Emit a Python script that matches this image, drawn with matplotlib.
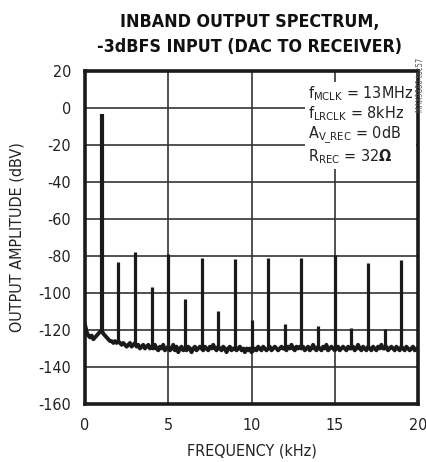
import numpy as np
import matplotlib
matplotlib.use("Agg")
import matplotlib.pyplot as plt
from matplotlib import font_manager as fm

# ---------------- data ----------------
floor_start_khz = 0.0
floor_step_khz = 0.1
noise_floor_dbv = [
    -117, -121, -123, -124, -123, -125, -124, -123, -122, -121,
    -120, -122, -123, -124, -125, -126, -126, -127, -126, -127,
    -126, -127, -128, -127, -128, -129, -128, -127, -129, -128,
    -127, -129, -128, -130, -129, -128, -130, -129, -128, -130,
    -129, -130, -128, -130, -131, -129, -130, -128, -131, -130,
    -129, -131, -130, -128, -131, -129, -132, -130, -129, -131,
    -130, -131, -129, -130, -132, -130, -129, -131, -130, -129,
    -130, -131, -129, -130, -131, -129, -130, -128, -130, -131,
    -129, -130, -131, -129, -130, -132, -130, -129, -131, -130,
    -130, -131, -130, -129, -131, -130, -132, -130, -131, -130,
    -132, -131, -130, -131, -129, -130, -131, -129, -130, -131,
    -130, -129, -131, -130, -129, -130, -131, -130, -129, -130,
    -130, -131, -129, -130, -128, -130, -131, -129, -130, -129,
    -130, -129, -131, -130, -129, -131, -130, -128, -130, -131,
    -129, -130, -131, -129, -130, -128, -131, -130, -129, -130,
    -131, -130, -129, -131, -130, -129, -130, -131, -129, -130,
    -130, -129, -131, -130, -128, -130, -131, -129, -130, -131,
    -129, -130, -131, -129, -130, -131, -129, -130, -128, -130,
    -130, -129, -131, -130, -129, -130, -131, -129, -130, -131,
    -129, -130, -131, -129, -130, -131, -130, -129, -131, -130,
    -130,
]
fundamental_khz = 1.0
fundamental_dbv = -3.0
harmonic_khz = [2, 3, 4, 5, 6, 7, 8, 9, 10, 11, 12, 13, 14, 15, 16, 17, 18, 19]
harmonic_dbv = [-83, -78, -96.5, -79, -103.5, -81, -109.5, -81.5, -114.5,
                -81, -117, -81, -118, -79.5, -119, -84, -119.5, -82]

x_ticks = [0, 5, 10, 15, 20]
y_ticks = [20, 0, -20, -40, -60, -80, -100, -120, -140, -160]
title = "INBAND OUTPUT SPECTRUM,\n-3dBFS INPUT (DAC TO RECEIVER)"
x_label = "FREQUENCY (kHz)"
y_label = "OUTPUT AMPLITUDE (dBV)"
notes = [r"f$_{\mathrm{MCLK}}$ = 13MHz",
         r"f$_{\mathrm{LRCLK}}$ = 8kHz",
         r"A$_{\mathrm{V\_REC}}$ = 0dB",
         r"R$_{\mathrm{REC}}$ = 32$\mathbf{\Omega}$"]
side_note = "MAX9880 toc57"

# ---------------- fonts ----------------
def have(name):
    try:
        fm.findfont(fm.FontProperties(family=name), fallback_to_default=False)
        return True
    except Exception:
        return False

if have("Liberation Sans Narrow"):
    FAM = "Liberation Sans Narrow"
    STRETCH = "normal"
else:
    FAM = "DejaVu Sans"
    STRETCH = "condensed"

plt.rcParams["font.family"] = [FAM, "DejaVu Sans"]
plt.rcParams["font.stretch"] = STRETCH
plt.rcParams["mathtext.fontset"] = "custom"
plt.rcParams["mathtext.rm"] = FAM
plt.rcParams["mathtext.it"] = FAM
plt.rcParams["mathtext.bf"] = FAM + ":bold"

INK = "#1a1a1a"
TXT = "#222222"
FS = 11.5

fig = plt.figure(figsize=(4.27, 4.62), dpi=100)
ax = fig.add_axes([85 / 427, 58 / 462, 333 / 427, 333 / 462])

freqs = floor_start_khz + floor_step_khz * np.arange(len(noise_floor_dbv))
floor = np.array(noise_floor_dbv, dtype=float)

ax.plot(freqs, floor, color=INK, lw=2.8, zorder=3, solid_joinstyle="round")
hf = np.array(harmonic_khz, dtype=float)
hbase = np.interp(hf, freqs, floor)
ax.vlines(hf, hbase, harmonic_dbv, color=INK, lw=2.3, zorder=3)
fbase = np.interp(fundamental_khz, freqs, floor)
ax.vlines([fundamental_khz], [fbase], [fundamental_dbv], color=INK, lw=3.0, zorder=3)

ax.set_xlim(0, 20)
ax.set_ylim(-160, 20)
ax.set_xticks(x_ticks)
ax.set_yticks(y_ticks)
ax.set_xticklabels([str(t) for t in x_ticks])
ax.set_yticklabels([str(t) for t in y_ticks])
ax.tick_params(axis="both", length=0, labelsize=FS, colors=TXT, pad=10)
ax.grid(True, color="#333333", lw=1.2)
ax.set_axisbelow(True)
for s in ax.spines.values():
    s.set_linewidth(2.6)
    s.set_color(INK)

ax.set_xlabel(x_label, fontsize=FS, color=TXT, labelpad=8)
ax.set_ylabel(y_label, fontsize=FS, color=TXT, labelpad=10)

fig.text(250 / 427, 1 - 35 / 462, title, ha="center", va="center",
         fontsize=12.8, fontweight="bold", color="#111111", linespacing=1.5)

# annotation box
ax.text(0.67, 0.96, "\n".join(notes), transform=ax.transAxes, ha="left", va="top",
        fontsize=FS, color=TXT, linespacing=1.12, zorder=5,
        bbox=dict(facecolor="white", edgecolor="none", pad=2))

fig.text(421 / 427, 1 - 85 / 462, side_note, rotation=90, ha="center", va="center",
         fontsize=5.5, color="#555555")

fig.savefig("out.png", dpi=100)
